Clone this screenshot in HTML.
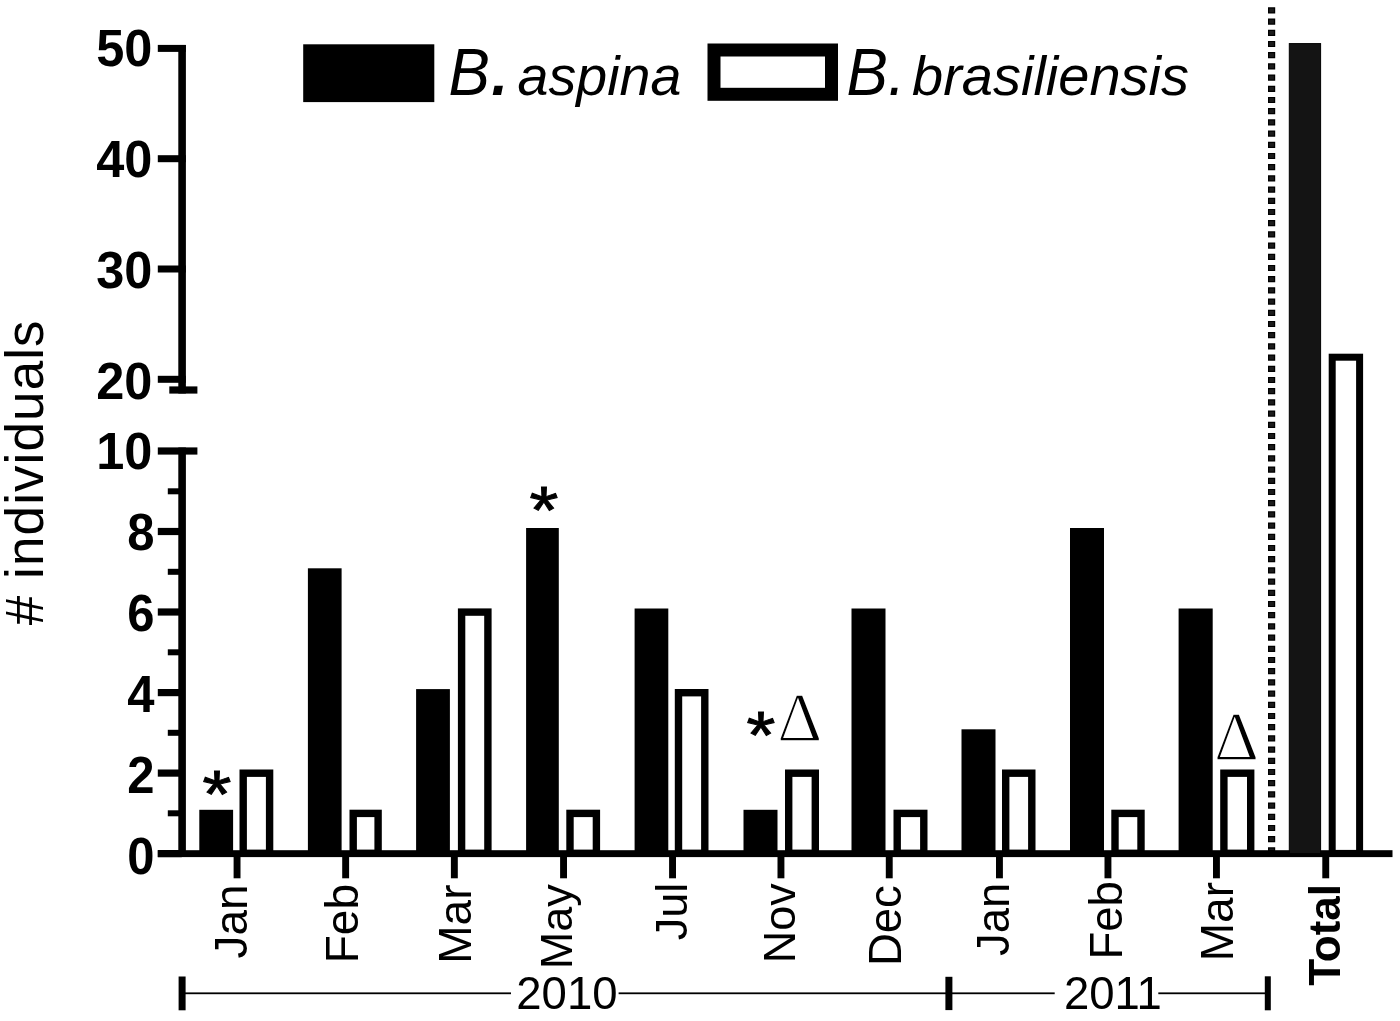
<!DOCTYPE html>
<html><head><meta charset="utf-8"><title>Figure</title>
<style>
html,body{margin:0;padding:0;background:#fff;}
svg{display:block;}
text{font-family:"Liberation Sans",sans-serif;fill:#000;}
.b{font-weight:bold;}
.i{font-style:italic;}
.yl{font-weight:bold;font-size:50.5px;text-anchor:end;}
.m{font-size:46px;text-anchor:end;}
.s{font-family:"Liberation Serif",serif;}
</style></head><body>
<svg width="1400" height="1021" viewBox="0 0 1400 1021">
<rect x="0" y="0" width="1400" height="1021" fill="#fff"/>

<rect x="303.2" y="44.3" width="131.1" height="57.8" fill="#000"/>
<text class="i" font-size="66" transform="translate(448.5,95) scale(0.94,1)">B</text>
<text class="i" font-size="88" x="489.3" y="95">.</text>
<text class="i" font-size="55.6" x="517.5" y="95">aspina</text>
<rect x="714" y="50" width="117.5" height="44.3" fill="#fff" stroke="#000" stroke-width="13"/>
<text class="i" font-size="66" transform="translate(846.5,95) scale(0.94,1)">B.</text>
<text class="i" font-size="56" x="912" y="95">brasiliensis</text>
<text font-size="53" letter-spacing="1.1" text-anchor="middle" transform="translate(42.6,472.3) rotate(-90)"># individuals</text>
<path d="M182.1 45 V393.6" stroke="#000" stroke-width="7.6" fill="none"/>
<rect x="157.8" y="44.9" width="28" height="7" fill="#000"/>
<text class="yl" transform="translate(152.3,66.4) scale(1,1.03)">50</text>
<rect x="157.8" y="155.2" width="28" height="7" fill="#000"/>
<text class="yl" transform="translate(152.3,177.1) scale(1,1.03)">40</text>
<rect x="157.8" y="265.5" width="28" height="7" fill="#000"/>
<text class="yl" transform="translate(152.3,287.8) scale(1,1.03)">30</text>
<rect x="157.8" y="375.8" width="28" height="7" fill="#000"/>
<text class="yl" transform="translate(152.3,398.5) scale(1,1.03)">20</text>
<rect x="169.3" y="386.4" width="28.1" height="7.2" fill="#000"/>
<path d="M182.1 447.4 V857" stroke="#000" stroke-width="7.6" fill="none"/>
<rect x="157.8" y="447.4" width="39.6" height="7.2" fill="#000"/>
<rect x="157.8" y="850.0" width="24" height="7.2" fill="#000"/>
<text class="yl" transform="translate(154.6,873.8) scale(0.97,1.02)">0</text>
<rect x="167.8" y="810.3" width="14" height="6" fill="#000"/>
<rect x="157.8" y="769.5" width="24" height="7.2" fill="#000"/>
<text class="yl" transform="translate(154.6,793.3) scale(0.97,1.02)">2</text>
<rect x="167.8" y="729.8" width="14" height="6" fill="#000"/>
<rect x="157.8" y="689.0" width="24" height="7.2" fill="#000"/>
<text class="yl" transform="translate(154.6,712.1) scale(0.97,1.02)">4</text>
<rect x="167.8" y="649.3" width="14" height="6" fill="#000"/>
<rect x="157.8" y="608.4" width="24" height="7.2" fill="#000"/>
<text class="yl" transform="translate(154.6,631.3) scale(0.97,1.02)">6</text>
<rect x="167.8" y="568.8" width="14" height="6" fill="#000"/>
<rect x="157.8" y="527.9" width="24" height="7.2" fill="#000"/>
<text class="yl" transform="translate(154.6,550.4) scale(0.97,1.02)">8</text>
<rect x="167.8" y="488.3" width="14" height="6" fill="#000"/>
<text class="yl" transform="translate(152.3,469.3) scale(1,1.02)">10</text>
<rect x="199.3" y="809.8" width="33.8" height="42.2" fill="#000"/>
<rect x="243.2" y="773.2" width="26.4" height="80.1" fill="#fff" stroke="#000" stroke-width="7.4"/>
<rect x="307.9" y="568.3" width="33.7" height="283.7" fill="#000"/>
<rect x="353.2" y="813.4" width="24.9" height="39.9" fill="#fff" stroke="#000" stroke-width="7.4"/>
<rect x="416.1" y="689.1" width="33.8" height="162.9" fill="#000"/>
<rect x="461.6" y="612.1" width="26.3" height="241.2" fill="#fff" stroke="#000" stroke-width="7.4"/>
<rect x="526.1" y="528.0" width="32.7" height="324.0" fill="#000"/>
<rect x="570.0" y="813.4" width="26.4" height="39.9" fill="#fff" stroke="#000" stroke-width="7.4"/>
<rect x="634.6" y="608.5" width="33.7" height="243.5" fill="#000"/>
<rect x="678.5" y="692.7" width="26.3" height="160.6" fill="#fff" stroke="#000" stroke-width="7.4"/>
<rect x="743.5" y="809.8" width="34.0" height="42.2" fill="#000"/>
<rect x="788.7" y="773.2" width="26.6" height="80.1" fill="#fff" stroke="#000" stroke-width="7.4"/>
<rect x="851.5" y="608.5" width="34.0" height="243.5" fill="#000"/>
<rect x="897.2" y="813.4" width="26.6" height="39.9" fill="#fff" stroke="#000" stroke-width="7.4"/>
<rect x="961.5" y="729.3" width="34.0" height="122.7" fill="#000"/>
<rect x="1005.7" y="773.2" width="26.1" height="80.1" fill="#fff" stroke="#000" stroke-width="7.4"/>
<rect x="1070.0" y="528.0" width="34.0" height="324.0" fill="#000"/>
<rect x="1115.0" y="813.4" width="26.0" height="39.9" fill="#fff" stroke="#000" stroke-width="7.4"/>
<rect x="1178.6" y="608.5" width="34.1" height="243.5" fill="#000"/>
<rect x="1223.9" y="773.2" width="26.8" height="80.1" fill="#fff" stroke="#000" stroke-width="7.4"/>
<rect x="157.8" y="850.2" width="1234.7" height="6.9" fill="#000"/>
<rect x="233.6" y="855" width="6.9" height="23.3" fill="#000"/>
<rect x="342.2" y="855" width="6.9" height="23.3" fill="#000"/>
<rect x="450.9" y="855" width="6.9" height="23.3" fill="#000"/>
<rect x="560.1" y="855" width="6.9" height="23.3" fill="#000"/>
<rect x="669.1" y="855" width="6.9" height="23.3" fill="#000"/>
<rect x="777.5" y="855" width="6.9" height="23.3" fill="#000"/>
<rect x="885.8" y="855" width="6.9" height="23.3" fill="#000"/>
<rect x="996.0" y="855" width="6.9" height="23.3" fill="#000"/>
<rect x="1104.5" y="855" width="6.9" height="23.3" fill="#000"/>
<rect x="1213.0" y="855" width="6.9" height="23.3" fill="#000"/>
<rect x="1322.3" y="855" width="6.9" height="23.3" fill="#000"/>
<rect x="1289.3" y="43.6" width="31.3" height="810" fill="#141414" stroke="#000" stroke-width="1"/>
<rect x="1332.2" y="357.2" width="27.4" height="496.2" fill="#fff" stroke="#000" stroke-width="7"/>
<path d="M1271.6 7.3 V853.6" stroke="#000" stroke-width="7.2" stroke-dasharray="6.2 5" fill="none"/>
<path d="M1271.6 8.5 V850" stroke="#1c1c1c" stroke-width="4.6" stroke-dasharray="3.8 7.4" fill="none"/>
<text class="m" style="font-size:46px" transform="translate(247.4,884.3) rotate(-90)">Jan</text>
<text class="m" style="font-size:46px" transform="translate(358.2,884.0) rotate(-90)">Feb</text>
<text class="m" style="font-size:46px" transform="translate(471.1,884.5) rotate(-90)">Mar</text>
<text class="m" style="font-size:45px" transform="translate(571.8,884.3) rotate(-90)">May</text>
<text class="m" style="font-size:45px" transform="translate(686.7,882.7) rotate(-90)">Jul</text>
<text class="m" style="font-size:45px" transform="translate(795.3,883.3) rotate(-90)">Nov</text>
<text class="m" style="font-size:45.5px" transform="translate(900.7,885.2) rotate(-90)">Dec</text>
<text class="m" style="font-size:45.5px" transform="translate(1008.9,882.6) rotate(-90)">Jan</text>
<text class="m" style="font-size:45.5px" transform="translate(1122.3,881.2) rotate(-90)">Feb</text>
<text class="m" style="font-size:46px" transform="translate(1233.4,882.0) rotate(-90)">Mar</text>
<text class="b" font-size="44" text-anchor="end" transform="translate(1340.3,884) rotate(-90)">Total</text>
<rect x="178.6" y="976.5" width="7" height="33.8" fill="#000"/>
<rect x="945.4" y="976.8" width="7" height="33.3" fill="#000"/>
<rect x="1264.8" y="976.3" width="6" height="34" fill="#000"/>
<rect x="185.0" y="992.4" width="326.0" height="1.8" fill="#000"/>
<rect x="618.6" y="992.4" width="327.4" height="1.8" fill="#000"/>
<rect x="952.0" y="992.4" width="102.7" height="1.8" fill="#000"/>
<rect x="1158.3" y="992.4" width="107.7" height="1.8" fill="#000"/>
<text font-size="45.5" text-anchor="middle" x="566.9" y="1008.6">2010</text>
<text font-size="45.5" text-anchor="middle" x="1112.8" y="1008.6">2011</text>
<text font-size="74" text-anchor="middle" stroke="#000" stroke-width="1.1" transform="translate(217.0,817.1) scale(1,0.89)">*</text>
<text font-size="74" text-anchor="middle" stroke="#000" stroke-width="1.1" transform="translate(544.0,533.2) scale(1,0.89)">*</text>
<text font-size="74" text-anchor="middle" stroke="#000" stroke-width="1.1" transform="translate(761.0,757.6) scale(1,0.89)">*</text>
<text class="s" font-size="70" text-anchor="middle" stroke="#fff" stroke-width="1.6" x="799.7" y="741.2">Δ</text>
<text class="s" font-size="70" text-anchor="middle" stroke="#fff" stroke-width="1.6" x="1236.5" y="760.4">Δ</text>
</svg>
</body></html>
